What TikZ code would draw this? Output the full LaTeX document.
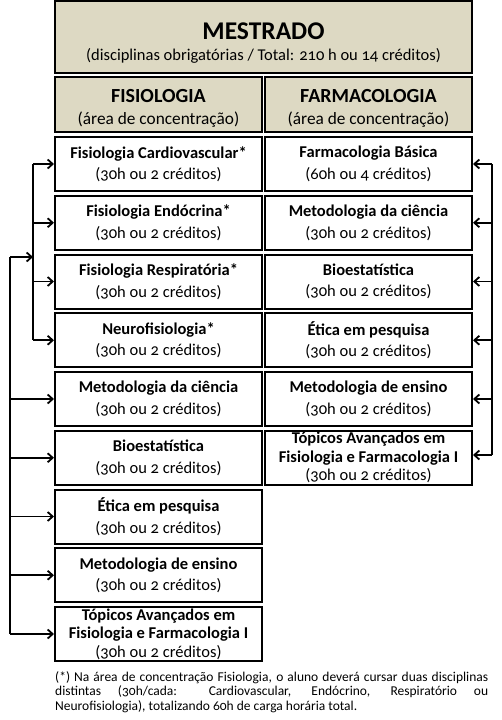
\documentclass[tikz,border=0pt]{standalone}
\usepackage{fontspec}
\setmainfont{Carlito}[Numbers=OldStyle]
\usepackage{xcolor}
\usepackage{tikz}
\usetikzlibrary{positioning}
\usetikzlibrary{shapes,arrows,calc,arrows.meta}

\definecolor{tanfill}{RGB}{221,217,195}

\begin{document}
\begin{tikzpicture}[x=1pt,y=-1pt,>={Straight Barb[length=5,width=9]},
  box/.style={draw,line width=2,minimum width=207,minimum height=54,inner sep=1,align=center,font=\fontsize{16.5}{21.5}\selectfont},
  head node/.style={box,fill=tanfill},
  link/.style={->,line width=1.8}]
\useasboundingbox (0,0) rectangle (502,720);

% titulo e areas
\node[head node,minimum width=417,minimum height=72] at (263.5,37) (mestrado)
  {\rule{0pt}{29pt}{\fontsize{25.5}{30}\selectfont\bfseries MESTRADO}\\(disciplinas obrigatórias / Total: 210 h ou 14 créditos)};
\node[head node,minimum height=55] at (158.5,104.5) (fisio)
  {\rule{0pt}{21pt}{\fontsize{20}{22}\selectfont\bfseries FISIOLOGIA}\\{\fontsize{17.3}{21}\selectfont(área de concentração)}};
\node[head node,minimum height=55] at (368.5,104.5) (farma)
  {\rule{0pt}{21pt}{\fontsize{20}{22}\selectfont\bfseries FARMACOLOGIA}\\{\fontsize{17.3}{21}\selectfont(área de concentração)}};

% disciplinas - fisiologia
\node[box] at (158.5,164) (Fone) {\textbf{Fisiologia Cardiovascular*}\\(30h ou 2 créditos)};
\node[box] at (158.5,222.75) (Ftwo) {\textbf{Fisiologia Endócrina*}\\(30h ou 2 créditos)};
\node[box] at (158.5,281.5) (Fthree) {\textbf{Fisiologia Respiratória*}\\(30h ou 2 créditos)};
\node[box] at (158.5,340.25) (Ffour) {\textbf{Neurofisiologia*}\\(30h ou 2 créditos)};
\node[box] at (158.5,399) (Ffive) {\textbf{Metodologia da ciência}\\(30h ou 2 créditos)};
\node[box] at (158.5,457.75) (Fsix) {\textbf{Bioestatística}\\(30h ou 2 créditos)};
\node[box] at (158.5,516.5) (Fseven) {\textbf{Ética em pesquisa}\\(30h ou 2 créditos)};
\node[box] at (158.5,575.25) (Feight) {\textbf{Metodologia de ensino}\\(30h ou 2 créditos)};
\node[box,font=\fontsize{16.5}{18.5}\selectfont] at (158.5,634) (Fnine)
  {\textbf{Tópicos Avançados em}\\\textbf{Fisiologia e Farmacologia I}\\(30h ou 2 créditos)};

% disciplinas - farmacologia
\node[box] at (368.5,164) (Pone) {\textbf{Farmacologia Básica}\\(60h ou 4 créditos)};
\node[box] at (368.5,222.75) (Ptwo) {\textbf{Metodologia da ciência}\\(30h ou 2 créditos)};
\node[box] at (368.5,281.5) (Pthree) {\textbf{Bioestatística}\\(30h ou 2 créditos)};
\node[box] at (368.5,340.25) (Pfour) {\textbf{Ética em pesquisa}\\(30h ou 2 créditos)};
\node[box] at (368.5,399) (Pfive) {\textbf{Metodologia de ensino}\\(30h ou 2 créditos)};
\node[box,font=\fontsize{16.5}{18.5}\selectfont] at (368.5,457.75) (Psix)
  {\textbf{Tópicos Avançados em}\\\textbf{Fisiologia e Farmacologia I}\\(30h ou 2 créditos)};

% nota
\node[anchor=north west,text width=433,inner sep=0,align=justify,font=\fontsize{13.5}{14.5}\selectfont] at (55,671) (nota)
  {\hyphenpenalty=10000 (*) Na área de concentração Fisiologia, o aluno deverá cursar duas disciplinas\linebreak distintas (30h/cada: Cardiovascular, Endócrino, Respiratório ou\linebreak Neurofisiologia), totalizando 60h de carga horária total.};

% chaves
\coordinate (inTop) at (33,164);
\coordinate (inBot) at (33,340.25);
\coordinate (inMid) at (33,257);
\coordinate (outTop) at (10,257);
\coordinate (outBot) at (10,634);
\coordinate (rTop) at (492,164);
\coordinate (rBot) at (492,455);

\draw[line width=1.8] (inTop) -- (inBot);
\draw[line width=1.8] (outTop) -- (outBot);
\draw[line width=1.8] (rTop) -- (rBot);
\draw[link] (outTop) -- (inMid);

\draw[link] (inTop) -- (Fone.west);
\draw[link] (Ftwo.west -| inTop) -- (Ftwo.west);
\draw[link] (Fthree.west -| inTop) -- (Fthree.west);
\draw[link] (inBot) -- (Ffour.west);
\draw[link] (Ffive.west -| outTop) -- (Ffive.west);
\draw[link] (Fsix.west -| outTop) -- (Fsix.west);
\draw[link] (Fseven.west -| outTop) -- (Fseven.west);
\draw[link] (Feight.west -| outTop) -- (Feight.west);
\draw[link] (outBot) -- (Fnine.west);

\draw[link] (rTop) -- (Pone.east);
\draw[link] (Ptwo.east -| rTop) -- (Ptwo.east);
\draw[link] (Pthree.east -| rTop) -- (Pthree.east);
\draw[link] (Pfour.east -| rTop) -- (Pfour.east);
\draw[link] (Pfive.east -| rTop) -- (Pfive.east);
\draw[link] (rBot) -- (rBot -| Psix.east);
\end{tikzpicture}
\end{document}
